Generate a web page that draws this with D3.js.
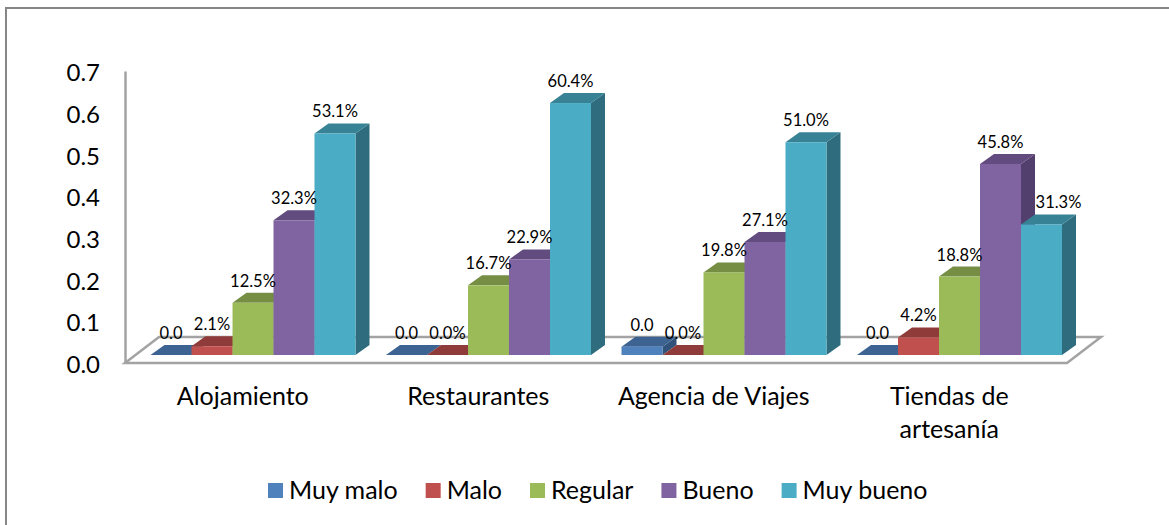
<!DOCTYPE html>
<html>
<head>
  <meta charset="utf-8">
  <script src="https://d3js.org/d3.v7.min.js"></script>
  <style>
    html, body { margin: 0; padding: 0; background: white; }
    svg { display: block; font-family: Lato, "Open Sans", sans-serif; fill: #000; }
  </style>
</head>
<body>
  <div id="chart"></div>
  <script>

  var categories = ["Alojamiento", "Restaurantes", "Agencia de Viajes", "Tiendas de artesanía"];
  var seriesNames = ["Muy malo", "Malo", "Regular", "Bueno", "Muy bueno"];

  var muyMalo = [0, 0, 0.02, 0];
  var malo = [0.021, 0, 0, 0.042];
  var regular = [0.125, 0.167, 0.198, 0.188];
  var bueno = [0.323, 0.229, 0.271, 0.458];
  var muyBueno = [0.531, 0.604, 0.51, 0.313];
  var seriesValues = [muyMalo, malo, regular, bueno, muyBueno];

  var muyMaloLabels = ["0.0", "0.0", "0.0", "0.0"];
  var maloLabels = ["2.1%", "0.0%", "0.0%", "4.2%"];
  var regularLabels = ["12.5%", "16.7%", "19.8%", "18.8%"];
  var buenoLabels = ["32.3%", "22.9%", "27.1%", "45.8%"];
  var muyBuenoLabels = ["53.1%", "60.4%", "51.0%", "31.3%"];
  var seriesLabels = [muyMaloLabels, maloLabels, regularLabels, buenoLabels, muyBuenoLabels];

  var yTicks = [0, 0.1, 0.2, 0.3, 0.4, 0.5, 0.6, 0.7];

  var frontColors = ["#4f81bd", "#c0504d", "#9bbb59", "#8064a2", "#4bacc6"];
  var topColors = ["#3c6391", "#8f3b39", "#768e44", "#624b7e", "#388296"];
  var sideColors = ["#31527a", "#7a3230", "#64793a", "#533f6e", "#2f6c7d"];

  var width = 1169, height = 525;
  var axisColor = "#a3a3a3";

  // bars sit a little behind the front edge of the floor
  var depthX = 14, depthY = 10, floorInset = 8;

  var svg = d3.select("#chart").append("svg")
    .attr("width", width)
    .attr("height", height);

  svg.append("rect")
    .attr("x", 6)
    .attr("y", 8)
    .attr("width", width + 10)
    .attr("height", height + 10)
    .style("fill", "white")
    .style("stroke", "#868686")
    .style("stroke-width", 2);

  var xScale = d3.scaleBand()
    .domain(categories)
    .range([125, 1067]);

  var seriesScale = d3.scaleBand()
    .domain(seriesNames)
    .range([25.5, 230.5]);

  var yScale = d3.scaleLinear()
    .domain([0, 0.7])
    .range([363, 71]);

  // floor
  var floorFront = yScale(0);
  var floorBack = floorFront - 26;
  svg.append("path")
    .attr("d", d3.line()([
      [xScale.range()[0], floorFront],
      [xScale.range()[0] + 34, floorBack],
      [xScale.range()[1] + 34, floorBack],
      [xScale.range()[1], floorFront]
    ]) + "Z")
    .style("fill", "white")
    .style("stroke", axisColor)
    .style("stroke-width", 2.5);

  // y axis
  var yAxis = svg.append("g")
    .attr("transform", "translate(125,0)")
    .call(d3.axisLeft(yScale).tickValues(yTicks).tickSize(0).tickPadding(25).tickFormat(d3.format(".1f")));
  yAxis.select(".domain")
    .style("stroke", axisColor)
    .style("stroke-width", 2.5);
  yAxis.selectAll("text")
    .attr("dy", "0.4em")
    .style("font-family", "Lato, 'Open Sans', sans-serif")
    .style("font-size", "24px")
    .style("fill", "#000");

  // bars, left to right so that each one covers the side of the one before
  var bars = svg.append("g");

  categories.forEach(function (cat, c) {
    seriesNames.forEach(function (name, s) {
      var value = seriesValues[s][c];
      var x0 = xScale(cat) + seriesScale(name);
      var x1 = x0 + seriesScale.bandwidth();
      var yBase = yScale(0) - floorInset;
      var yTop = yScale(value) - floorInset;
      var g = bars.append("g");

      g.append("path")
        .attr("d", d3.line()([[x1, yTop], [x1 + depthX, yTop - depthY], [x1 + depthX, yBase - depthY], [x1, yBase]]) + "Z")
        .style("fill", sideColors[s]);
      g.append("path")
        .attr("d", d3.line()([[x0, yTop], [x0 + depthX, yTop - depthY], [x1 + depthX, yTop - depthY], [x1, yTop]]) + "Z")
        .style("fill", topColors[s]);
      g.append("rect")
        .attr("x", x0)
        .attr("y", yTop)
        .attr("width", x1 - x0)
        .attr("height", yBase - yTop)
        .style("fill", frontColors[s]);
    });
  });

  // labels go on top of every bar
  categories.forEach(function (cat, c) {
    seriesNames.forEach(function (name, s) {
      var value = seriesValues[s][c];
      // a bar well below its left neighbour gets its label moved off that side face
      var nudge = s > 0 && seriesValues[s - 1][c] - value > 0.05 ? 17 : 0;
      svg.append("text")
        .attr("x", xScale(cat) + seriesScale(name) + seriesScale.bandwidth() / 2 + nudge)
        .attr("y", yScale(value) - floorInset - 16)
        .attr("text-anchor", "middle")
        .style("font-size", "16.5px")
        .text(seriesLabels[s][c]);
    });
  });

  // category labels, wrapped like the original
  svg.selectAll(".cat")
    .data(categories)
    .enter()
    .append("text")
    .attr("class", "cat")
    .attr("text-anchor", "middle")
    .style("font-size", "25px")
    .each(function (d) {
      var lines = d == "Tiendas de artesanía" ? ["Tiendas de", "artesanía"] : [d];
      var t = d3.select(this);
      lines.forEach(function (line, i) {
        t.append("tspan")
          .attr("x", xScale(d) + xScale.bandwidth() / 2)
          .attr("y", 405 + i * 33)
          .text(line);
      });
    });

  // legend
  var legend = svg.append("g");
  var legendX = 0;
  seriesNames.forEach(function (name, s) {
    var item = legend.append("g").attr("transform", "translate(" + legendX + ",0)");
    item.append("rect")
      .attr("x", 0)
      .attr("y", 483)
      .attr("width", 15)
      .attr("height", 15)
      .style("fill", frontColors[s]);
    var label = item.append("text")
      .attr("x", 21)
      .attr("y", 499)
      .style("font-size", "25px")
      .text(name);
    legendX += 21 + label.node().getComputedTextLength() + 28;
  });
  legend.attr("transform", "translate(268,0)");

  </script>
</body>
</html>
